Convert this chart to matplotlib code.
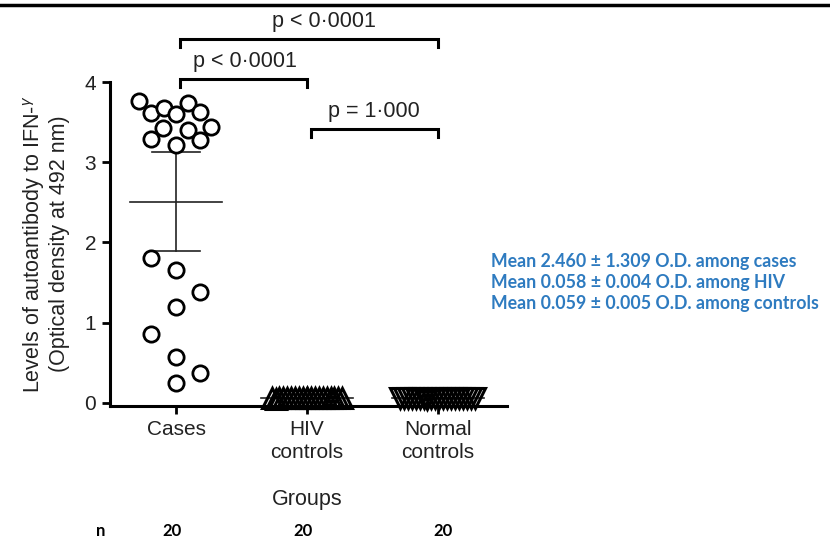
import numpy as np
import matplotlib
matplotlib.use("Agg")
import matplotlib.pyplot as plt
from matplotlib.lines import Line2D

# ---------------- data ----------------
groups = ["Cases", "HIV\ncontrols", "Normal\ncontrols"]
n_counts = ["20", "20", "20"]

cases = [3.76, 3.61, 3.68, 3.60, 3.74, 3.63, 3.43, 3.40, 3.44, 3.29,
         3.21, 3.28, 1.81, 1.66, 1.38, 1.20, 0.86, 0.57, 0.37, 0.25]
cases_jitter = [-0.28, -0.19, -0.09, 0.0, 0.09, 0.18, -0.10, 0.09, 0.27, -0.19,
                0.0, 0.18, -0.19, 0.0, 0.18, 0.0, -0.19, 0.0, 0.18, 0.0]

hiv = [0.055, 0.060, 0.058, 0.062, 0.054, 0.057, 0.061, 0.059, 0.056, 0.063,
       0.052, 0.058, 0.060, 0.057, 0.055, 0.062, 0.059, 0.056, 0.061, 0.054]
hiv_jitter = [-0.27, -0.21, -0.15, -0.09, -0.03, 0.03, 0.09, 0.15, 0.21, 0.27,
              -0.24, -0.18, -0.12, -0.06, 0.0, 0.06, 0.12, 0.18, 0.24, 0.0]

normal = [0.060, 0.055, 0.063, 0.058, 0.061, 0.054, 0.059, 0.064, 0.057, 0.060,
          0.062, 0.056, 0.059, 0.053, 0.061, 0.058, 0.065, 0.057, 0.060, 0.058]
normal_jitter = [-0.29, -0.23, -0.17, -0.11, -0.05, 0.01, 0.07, 0.13, 0.19, 0.25,
                 -0.26, -0.20, -0.14, -0.08, -0.02, 0.04, 0.10, 0.16, 0.22, 0.28]

t_crit = 2.093  # t(0.975, df=19) for 95% CI

comparisons = [  # (x1, x2, y, label)
    (0, 2, 4.54, "p < 0·0001"),
    (0, 1, 4.04, "p < 0·0001"),
    (1, 2, 3.42, "p = 1·000"),
]
label_shift = [0.10, 0.0, -0.02]

summary_lines = ["Mean 2.460 ± 1.309 O.D. among cases",
                 "Mean 0.058 ± 0.004 O.D. among HIV",
                 "Mean 0.059 ± 0.005 O.D. among controls"]

# ---------------- plot ----------------
plt.rcParams['font.family'] = ['Liberation Sans', 'DejaVu Sans']
plt.rcParams['mathtext.fontset'] = 'custom'
plt.rcParams['mathtext.rm'] = 'Liberation Sans'
plt.rcParams['mathtext.it'] = 'Liberation Sans:italic'

W, H = 830, 540
fig = plt.figure(figsize=(W / 100, H / 100), dpi=100)
ax = fig.add_axes([110 / W, (H - 406) / H, (507 - 110) / W, (406 - 82) / H])

txt_col = '#222222'

# mean and 95% CI lines
for i, vals in enumerate([cases, hiv, normal]):
    v = np.array(vals)
    m = v.mean()
    half = t_crit * v.std(ddof=1) / np.sqrt(len(v))
    ax.plot([i - 0.35, i + 0.35], [m, m], color='#222222', lw=1.2, zorder=2)
    ax.plot([i, i], [m - half, m + half], color='#222222', lw=1.2, zorder=2)
    for yy in (m - half, m + half):
        ax.plot([i - 0.18, i + 0.18], [yy, yy], color='#222222', lw=1.2, zorder=2)

ax.plot(np.array(cases_jitter) + 0, cases, 'o', ms=11, mew=2.0,
        mfc='white', mec='black', clip_on=False, zorder=3, ls='none')
ax.plot(np.array(hiv_jitter) + 1, hiv, '^', ms=14, mew=2.2,
        mfc='none', mec='black', clip_on=False, zorder=3, ls='none')
ax.plot(np.array(normal_jitter) + 2, normal, 'v', ms=14, mew=2.2,
        mfc='none', mec='black', clip_on=False, zorder=3, ls='none')

ax.set_xlim(-0.504, 2.527)
ax.set_ylim(-0.04, 4.0)
ax.set_yticks([0, 1, 2, 3, 4])
ax.set_xticks([0, 1, 2])
ax.set_xticklabels(groups, fontsize=15.5, color=txt_col, linespacing=1.25)
ax.tick_params(axis='both', width=2, length=6, labelsize=15, colors='black',
               labelcolor=txt_col, direction='out', pad=4)
for s in ['top', 'right']:
    ax.spines[s].set_visible(False)
for s in ['left', 'bottom']:
    ax.spines[s].set_linewidth(2.2)

ax.set_ylabel("Levels of autoantibody to IFN-$^{\\gamma}$\n(Optical density at 492 nm)",
              fontsize=15.5, color=txt_col, linespacing=1.15, labelpad=10)

# significance brackets
for (x1, x2, y, lab), dx in zip(comparisons, label_shift):
    ax.plot([x1 + 0.03, x1 + 0.03, x2, x2], [y - 0.1, y, y, y - 0.1],
            color='black', lw=2.2, clip_on=False, solid_joinstyle='miter')
    ax.text((x1 + x2) / 2 + 0.03 + dx, y + 0.21, lab, ha='center', va='center',
            fontsize=15.5, color=txt_col, clip_on=False)

# top rule
fig.add_artist(Line2D([0, 1], [1 - 5 / H, 1 - 5 / H], color='black', lw=2.5,
                      transform=fig.transFigure))

# Groups label and n row
fig.text(307 / W, 1 - 500 / H, "Groups", ha='center', va='center',
         fontsize=15.5, color=txt_col)
fig.text(101 / W, 1 - 531 / H, "n", ha='center', va='center', fontsize=12,
         fontweight='bold', family='Lato', color='black')
for xpx, lab in zip([172, 303, 443], n_counts):
    fig.text(xpx / W, 1 - 531 / H, lab, ha='center', va='center', fontsize=12,
             fontweight='bold', family='Lato', color='black')

# summary text
for k, line in enumerate(summary_lines):
    fig.text(491 / W, 1 - (262 + 20.5 * k) / H, line, ha='left', va='center',
             fontsize=12.8, fontweight='bold', family='Lato', color='#2E7BC0')

fig.savefig("out.png", dpi=100)
